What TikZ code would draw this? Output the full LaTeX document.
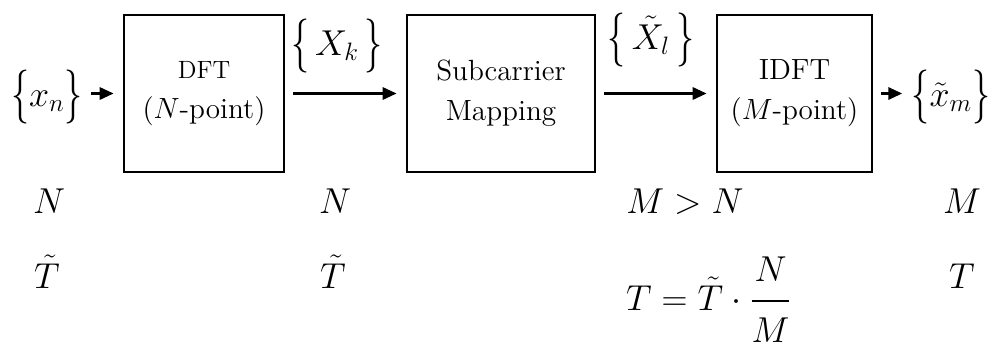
\RequirePackage{fix-cm}
\documentclass[tikz,border=0pt]{standalone}
\usepackage{amsmath}
\usepackage{graphicx}
\usetikzlibrary{arrows.meta}
\newcommand{\lbr}{\mathopen{\vcenter{\hbox{\scalebox{1}[1.5]{$\{$}}}}}
\newcommand{\rbr}{\mathclose{\vcenter{\hbox{\scalebox{1}[1.5]{$\}$}}}}}
\begin{document}
\begin{tikzpicture}[x=0.5pt,y=-0.5pt,
  blk/.style={draw, line width=1.3pt, minimum height=78.5pt, inner sep=0pt, align=center, font=\fontsize{14.6}{20}\selectfont},
  arr/.style={line width=1.5pt, -{Triangle[length=7pt,width=6pt]}, shorten >=4.5pt, shorten <=4pt},
  lbl/.style={inner sep=0pt, font=\fontsize{18}{22}\selectfont}]
\useasboundingbox[fill=white] (0,0) rectangle (989,354);
% blocks
\node[blk, minimum width=80pt] (dft) at (204,93.5) {{\fontsize{12.5}{20}\selectfont DFT}\\($N$-point)};
\node[blk, minimum width=94pt] (sub) at (501,93.5) {Subcarrier\\Mapping};
\node[blk, minimum width=77.5pt] (idft) at (794.5,93.5) {IDFT\\($M$-point)};
% signal labels
\node[lbl] (xn) at (47,97) {$\lbr x_n\rbr$};
\node[lbl] (Xk) at (337,46) {$\lbr\,X_k\,\rbr$};
\node[lbl] (Xl) at (651,40) {$\lbr\,\tilde{X}_l\,\rbr$};
\node[lbl] (xm) at (951,97) {$\lbr\tilde{x}_m\rbr$};
% connectors
\draw[arr] (xn.east |- dft.west) -- (dft.west);
\draw[arr] (dft) -- (sub);
\draw[arr] (sub) -- (idft);
\draw[arr] (idft.east) -- (xm.west |- idft.east);
% parameter rows
\node[lbl, anchor=base] (n1) at (49,213) {$N$};
\node[lbl, anchor=base] (t1) at (47,288) {$\tilde{T}$};
\node[lbl, anchor=base] (n2) at (335,213) {$N$};
\node[lbl, anchor=base] (t2) at (333,288) {$\tilde{T}$};
\node[lbl, anchor=base] (mn) at (685,213) {$M>N$};
\node[lbl, anchor=base] (f) at (709,310) {$T=\tilde{T}\cdot\dfrac{\raisebox{2pt}{$N$}}{\raisebox{-4pt}{$M$}}$};
\node[lbl, anchor=base] (m4) at (962,213) {$M$};
\node[lbl, anchor=base] (t4) at (962,288) {$T$};
\end{tikzpicture}
\end{document}
